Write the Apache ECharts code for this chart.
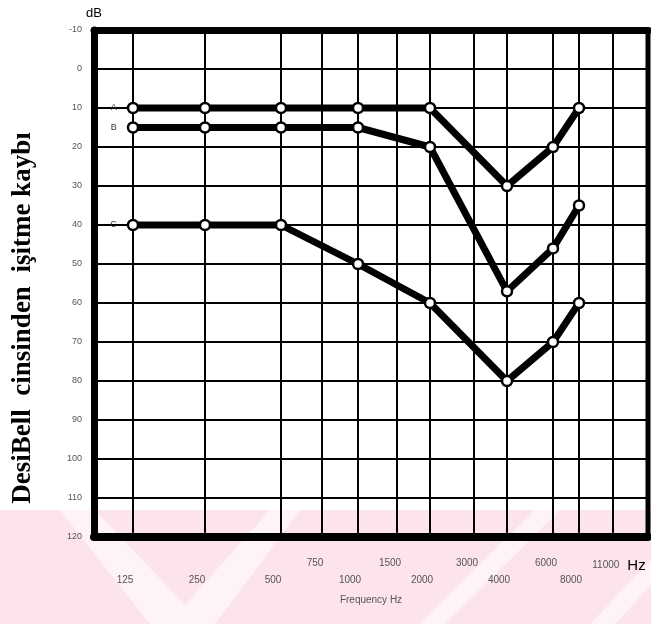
<!DOCTYPE html>
<html>
<head>
<meta charset="utf-8">
<script src="https://cdn.jsdelivr.net/npm/echarts@6/dist/echarts.min.js"></script>
<style>
  html, body { margin: 0; padding: 0; background: #fff; }
  #chart { width: 651px; height: 624px; }
</style>
</head>
<body>
<div id="chart"></div>
<script>
// Audiogram: hearing threshold (dB) per test frequency for three curves.
const freqLabels = ['125', '250', '500', '750', '1000', '1500', '2000', '3000', '4000', '6000', '8000', '11000'];
// Place of each frequency column on the audiogram's horizontal scale (axis runs 0..55.4)
const freqAxisSlots = [3.9, 11.1, 18.7, 22.8, 26.4, 30.3, 33.6, 38.0, 41.3, 45.9, 48.5, 51.9];
const upperRowLabels = ['750', '1500', '3000', '6000', '11000'];

const dbTicks = [-10, 0, 10, 20, 30, 40, 50, 60, 70, 80, 90, 100, 110, 120];

const curveFreqs = ['125', '250', '500', '1000', '2000', '4000', '6000', '8000'];
const curveA = [10, 10, 10, 10, 10, 30, 20, 10];
const curveB = [15, 15, 15, 15, 20, 57, 46, 35];
const curveC = [40, 40, 40, 50, 60, 80, 70, 60];
const curveNames = ['A', 'B', 'C'];

function slotOf(freq) {
  return freqAxisSlots[freqLabels.indexOf(freq)];
}
function curveData(values) {
  return values.map((v, i) => [slotOf(curveFreqs[i]), v]);
}

function curveSeries(name, values) {
  return {
    name: name,
    type: 'line',
    z: 5,
    data: curveData(values),
    symbol: 'circle',
    symbolSize: 10,
    lineStyle: { color: '#000', width: 7, cap: 'round', join: 'round' },
    itemStyle: { color: '#fff', borderColor: '#000', borderWidth: 2.5 },
    label: {
      show: true,
      position: 'left',
      distance: 10,
      fontSize: 9,
      color: '#333',
      formatter: (p) => (p.dataIndex === 0 ? name : '')
    },
    emphasis: { disabled: true },
    animation: false
  };
}

const chart = echarts.init(document.getElementById('chart'), null, { renderer: 'canvas' });

const stripeFill = 'rgba(255,255,255,0.55)';

chart.setOption({
  backgroundColor: '#fff',
  animation: false,
  grid: {
    left: 94, right: 3, top: 30, bottom: 87,
    show: true, borderColor: '#000', borderWidth: 5
  },
  graphic: [
    {
      type: 'rect', z: -100, silent: true,
      shape: { x: 0, y: 510, width: 651, height: 114 },
      style: { fill: '#fce4ea' }
    },
    {
      type: 'polygon', z: -99, silent: true,
      shape: { points: [[150, 624], [215, 624], [300, 510], [270, 510], [185, 605], [95, 510], [60, 510]] },
      style: { fill: stripeFill }
    },
    {
      type: 'polygon', z: -99, silent: true,
      shape: { points: [[420, 624], [445, 624], [560, 510], [535, 510]] },
      style: { fill: stripeFill }
    },
    {
      type: 'polygon', z: -99, silent: true,
      shape: { points: [[590, 624], [615, 624], [651, 585], [651, 560]] },
      style: { fill: stripeFill }
    },
    {
      type: 'text', silent: true,
      x: 23, y: 318, rotation: Math.PI / 2,
      style: {
        text: 'DesiBell  cinsinden  işitme kaybı',
        font: 'bold 27px "Liberation Serif", "DejaVu Serif", serif',
        fill: '#000',
        textAlign: 'center',
        textVerticalAlign: 'middle'
      }
    }
  ],
  xAxis: [
    {
      type: 'value',
      min: 0, max: 55.4,
      position: 'bottom',
      name: 'Frequency Hz',
      nameLocation: 'middle',
      nameGap: 58,
      nameTextStyle: { fontSize: 10, color: '#555', fontFamily: 'Liberation Sans, sans-serif' },
      axisLine: { show: true, onZero: false, lineStyle: { color: '#000', width: 8 } },
      axisTick: { show: false },
      splitLine: { show: false },
      axisLabel: {
        customValues: freqAxisSlots,
        margin: 21,
        formatter: (value) => {
          let idx = freqAxisSlots.findIndex((s) => Math.abs(s - value) < 0.01);
          if (idx < 0) return '';
          const lab = freqLabels[idx];
          if (lab === '11000') return '{up2|' + lab + '}{hz|Hz}';
          return upperRowLabels.includes(lab) ? '{up|' + lab + '}' : '{lo|' + lab + '}';
        },
        rich: {
          up: { fontSize: 10, color: '#555', padding: [0, 14, 0, 0] },
          up2: { fontSize: 10, color: '#555', padding: [0, 8, 0, 12] },
          lo: { fontSize: 10, color: '#555', padding: [17, 16, 0, 0] },
          hz: { fontSize: 15, color: '#000' }
        }
      }
    },
    {
      type: 'value',
      min: 0, max: 55.4,
      position: 'top',
      axisLine: { show: true, onZero: false, lineStyle: { color: '#000', width: 7 } },
      axisTick: { show: false },
      axisLabel: { show: false },
      splitLine: { show: false }
    }
  ],
  yAxis: {
    type: 'value',
    inverse: true,
    min: -10, max: 120, interval: 10,
    name: 'dB',
    nameLocation: 'start',
    nameGap: 10,
    nameTextStyle: { fontSize: 13, color: '#000', align: 'center', fontFamily: 'Liberation Sans, sans-serif' },
    axisLine: { show: true, onZero: false, lineStyle: { color: '#000', width: 7 } },
    axisTick: { show: false },
    axisLabel: {
      margin: 12,
      fontSize: 9,
      color: '#555',
      formatter: (v) => (dbTicks.includes(v) ? String(v) : '')
    },
    splitLine: { show: true, lineStyle: { color: '#000', width: 2 } }
  },
  series: [
    {
      name: 'grid-columns',
      type: 'line',
      data: [],
      z: 1,
      silent: true,
      markLine: {
        silent: true,
        symbol: ['none', 'none'],
        label: { show: false },
        lineStyle: { color: '#000', width: 2, type: 'solid' },
        emphasis: { disabled: true },
        data: freqAxisSlots.map((s) => ({ xAxis: s }))
      }
    },
    curveSeries(curveNames[0], curveA),
    curveSeries(curveNames[1], curveB),
    curveSeries(curveNames[2], curveC)
  ]
});
</script>
</body>
</html>
